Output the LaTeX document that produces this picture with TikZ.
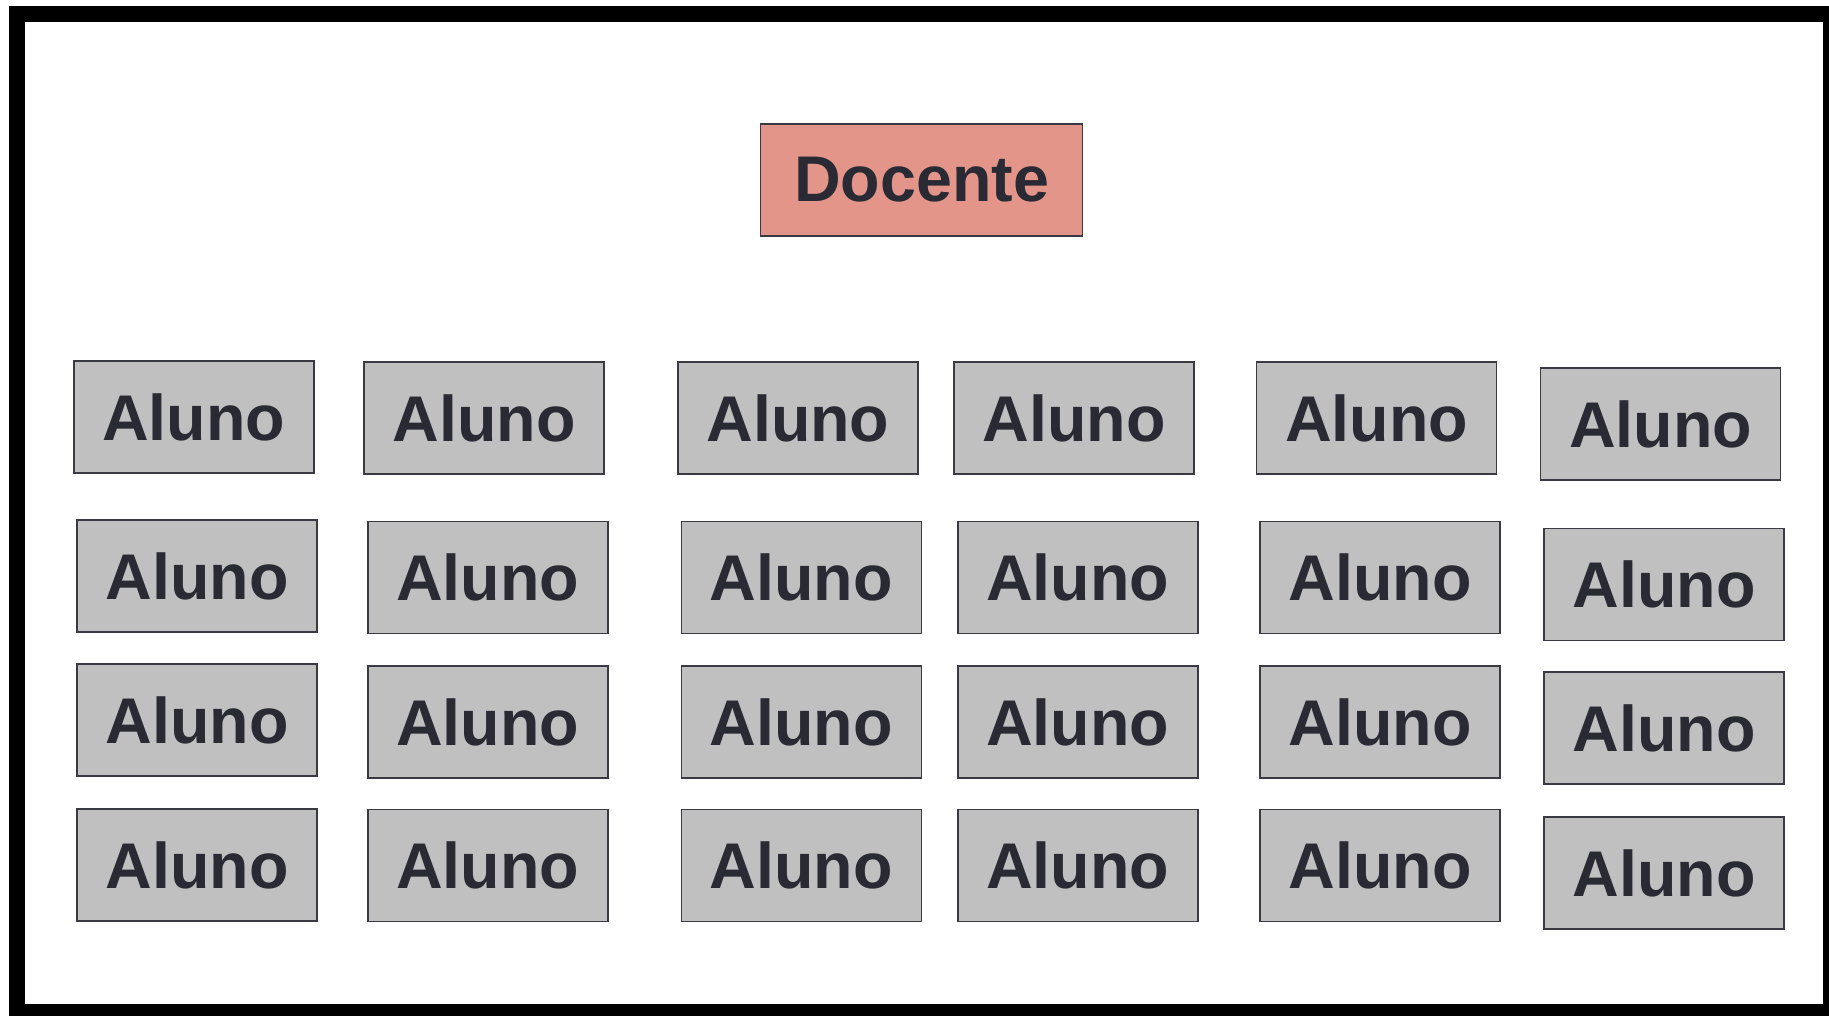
\documentclass[tikz,border=0pt]{standalone}
\usepackage{fontspec}
\setmainfont{Liberation Sans}
\definecolor{txt}{HTML}{2A2A34}
\definecolor{edge}{HTML}{3A3A44}
\definecolor{alunofill}{HTML}{C0C0C0}
\definecolor{docfill}{HTML}{E4958A}
\begin{document}
\begin{tikzpicture}[x=0.5pt,y=-0.5pt,
  box/.style={draw=edge, line width=0.9pt, minimum width=120pt, minimum height=56pt,
    inner sep=0pt, text=txt, font=\fontsize{32.3}{36}\selectfont\bfseries,
    text depth=-1pt},
  aluno/.style={box, fill=alunofill},
  docente/.style={box, fill=docfill, minimum width=161pt}]
\useasboundingbox (0,0) rectangle (1829,1016);
\fill[white] (0,0) rectangle (1829,1016);
\draw[line width=8pt] (17,14) rectangle (1831,1012);
\node[docente] (doc) at (921.5,179.7) {Docente};
% row 1
\node[aluno] (a11) at (193.6,416.6) {Aluno};
\node[aluno] (a12) at (484.1,417.6) {Aluno};
\node[aluno] (a13) at (797.9,417.6) {Aluno};
\node[aluno] (a14) at (1074.3,417.6) {Aluno};
\node[aluno] (a15) at (1376.5,417.6) {Aluno};
\node[aluno] (a16) at (1660.5,424.0) {Aluno};
% row 2
\node[aluno] (a21) at (197.1,576.3) {Aluno};
\node[aluno] (a22) at (487.6,577.4) {Aluno};
\node[aluno] (a23) at (801.4,577.4) {Aluno};
\node[aluno] (a24) at (1077.8,577.4) {Aluno};
\node[aluno] (a25) at (1380.0,577.4) {Aluno};
\node[aluno] (a26) at (1664.0,584.4) {Aluno};
% row 3
\node[aluno] (a31) at (197.1,719.7) {Aluno};
\node[aluno] (a32) at (487.6,722.1) {Aluno};
\node[aluno] (a33) at (801.4,722.1) {Aluno};
\node[aluno] (a34) at (1077.8,722.1) {Aluno};
\node[aluno] (a35) at (1380.0,722.1) {Aluno};
\node[aluno] (a36) at (1664.0,727.9) {Aluno};
% row 4
\node[aluno] (a41) at (197.1,864.6) {Aluno};
\node[aluno] (a42) at (487.6,865.5) {Aluno};
\node[aluno] (a43) at (801.4,865.5) {Aluno};
\node[aluno] (a44) at (1077.8,865.5) {Aluno};
\node[aluno] (a45) at (1380.0,865.5) {Aluno};
\node[aluno] (a46) at (1664.0,872.6) {Aluno};
\end{tikzpicture}
\end{document}
